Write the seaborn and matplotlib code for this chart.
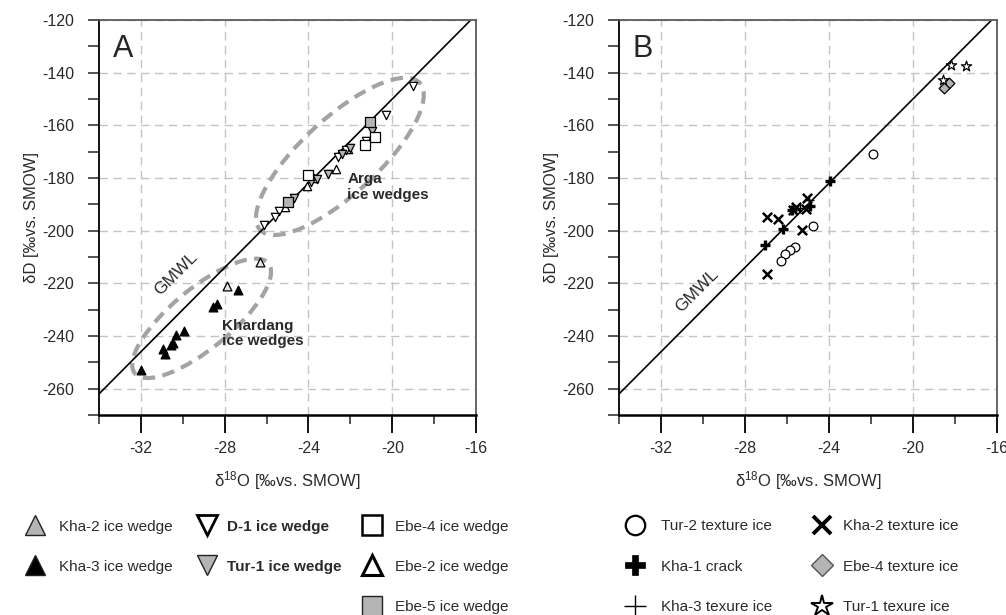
import numpy as np
import pandas as pd
import matplotlib
matplotlib.use('Agg')
import matplotlib.pyplot as plt
import seaborn as sns
from matplotlib.lines import Line2D
from matplotlib.patches import Ellipse
from matplotlib.transforms import ScaledTranslation

# ---- panel A: ice wedges (d18O, dD) ----
kha2_wedge_x = [-27.9, -26.3]
kha2_wedge_y = [-221.2, -211.9]
kha3_wedge_x = [-32.0, -30.95, -30.85, -30.55, -30.45, -30.3, -29.95, -28.55, -28.35, -27.35]
kha3_wedge_y = [-253.0, -245.0, -247.0, -243.5, -242.5, -239.5, -238.0, -229.0, -228.0, -222.5]
d1_wedge_x = [-19.0, -20.3, -21.25, -22.2, -22.6, -25.4, -25.6, -26.1]
d1_wedge_y = [-145.0, -156.0, -166.0, -169.5, -172.0, -192.5, -195.0, -198.0]
tur1_wedge_x = [-20.95, -22.0, -22.4, -23.05, -23.9, -23.6, -24.7]
tur1_wedge_y = [-162.0, -168.5, -171.0, -178.5, -181.5, -180.5, -187.5]
ebe4_wedge_x = [-24.0, -21.3, -20.8]
ebe4_wedge_y = [-179.0, -167.5, -164.5]
ebe2_wedge_x = [-22.7, -22.1, -24.05, -25.1, -23.75]
ebe2_wedge_y = [-176.5, -169.0, -183.0, -191.0, -180.0]
ebe5_wedge_x = [-25.0, -21.05]
ebe5_wedge_y = [-189.2, -158.7]

# ---- panel B: texture ice and cracks ----
tur2_tex_x = [-21.9, -24.75, -25.6, -25.85, -26.1, -26.3]
tur2_tex_y = [-170.7, -198.3, -206.3, -207.3, -209.0, -211.7]
kha1_crack_x = [-27.05, -26.2, -23.95, -24.9, -25.75]
kha1_crack_y = [-205.6, -199.2, -181.2, -190.7, -192.0]
kha3_tex_x = [-25.4, -24.95]
kha3_tex_y = [-191.5, -188.5]
kha2_tex_x = [-26.95, -26.45, -25.7, -25.3, -25.05, -26.95, -25.55, -25.1]
kha2_tex_y = [-195.0, -195.5, -192.3, -199.6, -187.5, -216.3, -191.0, -191.8]
ebe4_tex_x = [-18.3, -18.5]
ebe4_tex_y = [-144.0, -145.8]
tur1_tex_x = [-18.2, -17.45, -18.55]
tur1_tex_y = [-137.0, -137.4, -142.6]

# global meteoric water line dD = 8 * d18O + 10
gmwl_slope = 8
gmwl_icept = 10

sns.set_style('ticks')
plt.rcParams['font.family'] = ['Liberation Sans', 'DejaVu Sans']
plt.rcParams['mathtext.fontset'] = 'custom'
plt.rcParams['mathtext.rm'] = 'Liberation Sans'
plt.rcParams['mathtext.default'] = 'regular'
plt.rcParams['axes.unicode_minus'] = False

GRAY = '#b4b4b4'
TXT = '#2a2a2a'

fig = plt.figure(figsize=(10.06, 6.15), dpi=100)
axA = fig.add_axes([0.0984, 0.3252, 0.3748, 0.6423])
axB = fig.add_axes([0.6153, 0.3252, 0.3757, 0.6423])


def style_axes(ax, letter):
    ax.set_xlim(-34, -16)
    ax.set_ylim(-270, -120)
    ax.set_xticks([-32, -28, -24, -20, -16])
    ax.set_xticks([-34, -30, -26, -22, -18], minor=True)
    ax.set_yticks(np.arange(-260, -119, 20))
    ax.set_yticks(np.arange(-270, -119, 20), minor=True)
    ax.set_axisbelow(True)
    ax.grid(True, which='major', color='#c4c4c4', linestyle=(0, (6, 4)), linewidth=1.0)
    ax.tick_params(axis='x', which='major', direction='out', length=13, width=1.3,
                   labelsize=11.5, pad=6, colors='black', labelcolor=TXT)
    ax.tick_params(axis='x', which='minor', direction='out', length=6.5, width=1.1)
    ax.tick_params(axis='y', which='both', direction='out', length=8, width=1.1,
                   labelsize=11.5, pad=10, labelcolor=TXT)
    for side in ['left', 'bottom']:
        ax.spines[side].set_color('black')
    ax.spines['left'].set_linewidth(1.3)
    ax.spines['bottom'].set_linewidth(1.8)
    for side in ['top', 'right']:
        ax.spines[side].set_visible(True)
        ax.spines[side].set_color('#5a5a5a')
        ax.spines[side].set_linewidth(1.3)
    ax.set_xlabel(r'δ$^{18}$O [‰vs. SMOW]', fontsize=12, color=TXT, labelpad=9)
    ax.set_ylabel('δD [‰vs. SMOW]', fontsize=12, color=TXT, labelpad=2)
    ax.text(0.037, 0.906, letter, transform=ax.transAxes, fontsize=22, va='baseline')
    xs = np.array([-34, -16])
    ax.plot(xs, gmwl_slope * xs + gmwl_icept, color='black', lw=1.2, zorder=2)


def dashed_ellipse(ax, cx, cy, w_px, h_px, angle):
    tr = fig.dpi_scale_trans + ScaledTranslation(cx, cy, ax.transData)
    e = Ellipse((0, 0), w_px / fig.dpi, h_px / fig.dpi, angle=angle, transform=tr,
                fill=False, edgecolor='#a3a3a3', lw=3, linestyle=(0, (3, 1.8)),
                zorder=1.5, clip_on=False)
    ax.add_patch(e)


def pts(ax, x, y, marker, s, fc, ec='black', lw=0.9):
    if marker in ['+', 'x']:
        sns.scatterplot(x=x, y=y, ax=ax, marker=marker, s=s, color=ec, linewidth=lw, zorder=3)
    else:
        sns.scatterplot(x=x, y=y, ax=ax, marker=marker, s=s, color=fc, edgecolor=ec,
                        linewidth=lw, zorder=3)


style_axes(axA, 'A')
style_axes(axB, 'B')

# panel A
dashed_ellipse(axA, -22.5, -171.8, 217, 76, 42.6)
dashed_ellipse(axA, -29.1, -233.3, 173, 60, 39.5)
pts(axA, kha2_wedge_x, kha2_wedge_y, '^', 40, '#e6e6e6')
pts(axA, kha3_wedge_x, kha3_wedge_y, '^', 40, 'black')
pts(axA, ebe2_wedge_x, ebe2_wedge_y, '^', 36, 'white')
pts(axA, d1_wedge_x, d1_wedge_y, 'v', 36, 'white')
pts(axA, tur1_wedge_x, tur1_wedge_y, 'v', 36, GRAY)
pts(axA, ebe4_wedge_x, ebe4_wedge_y, 's', 45, 'white')
pts(axA, ebe5_wedge_x, ebe5_wedge_y, 's', 50, GRAY)

axA.text(-22.15, -183.3, 'Arga\nice wedges', fontsize=11, fontweight='bold', color=TXT,
         va='center', ha='left', linespacing=1.15)
axA.text(-28.13, -239.1, 'Khardang\nice wedges', fontsize=11, fontweight='bold', color=TXT,
         va='center', ha='left', linespacing=1.15)
axA.text(-30.32, -216.2, 'GMWL', fontsize=12.5, rotation=45, ha='center', va='center',
         rotation_mode='anchor', color=TXT)

# panel B
pts(axB, tur2_tex_x, tur2_tex_y, 'o', 40, 'white')
pts(axB, kha2_tex_x, kha2_tex_y, 'x', 45, None, lw=1.8)
pts(axB, kha1_crack_x, kha1_crack_y, '+', 60, None, lw=2.4)
pts(axB, kha3_tex_x, kha3_tex_y, '+', 45, None, lw=1.0)
pts(axB, ebe4_tex_x, ebe4_tex_y, 'D', 30, GRAY)
pts(axB, tur1_tex_x, tur1_tex_y, '*', 60, 'white', lw=0.9)
axB.text(-30.3, -222.7, 'GMWL', fontsize=12.5, rotation=45, ha='center', va='center',
         rotation_mode='anchor', color=TXT)


def h(marker, ms, fc, mew=1.0, ec='#222222'):
    return Line2D([], [], ls='none', marker=marker, ms=ms, mfc=fc, mec=ec, mew=mew)


def column_legend(handles, labels, x_px, y_px, pad, bold=()):
    leg = fig.legend(handles, labels, loc='upper left',
                     bbox_to_anchor=(x_px / 1006, 1 - y_px / 615),
                     frameon=False, borderpad=0, borderaxespad=0, fontsize=11,
                     handlelength=1.6, handletextpad=pad, labelspacing=1.72)
    for t in leg.get_texts():
        t.set_color(TXT)
        if t.get_text() in bold:
            t.set_fontweight('bold')
    return leg


top = 519.5
column_legend([h('^', 14, GRAY), h('^', 14, 'black')],
              ['Kha-2 ice wedge', 'Kha-3 ice wedge'], 22.8, top, 0.77)
column_legend([h('v', 14, 'white', 2.0, 'black'), h('v', 14, GRAY)],
              ['D-1 ice wedge', 'Tur-1 ice wedge'], 194.8, top, 0.51,
              bold=('D-1 ice wedge', 'Tur-1 ice wedge'))
column_legend([h('s', 14, 'white', 1.8, 'black'), h('^', 14, 'white', 2.2, 'black'),
               h('s', 14, GRAY)],
              ['Ebe-4 ice wedge', 'Ebe-2 ice wedge', 'Ebe-5 ice wedge'], 359.8, top, 0.7)
column_legend([h('o', 14, 'white', 1.6, 'black'), h('P', 15, 'black', 0.5, 'black'),
               h('+', 16, 'none', 1.0, 'black')],
              ['Tur-2 texture ice', 'Kha-1 crack', 'Kha-3 texure ice'], 622.8, top, 0.9)
column_legend([h('x', 13, 'none', 2.8, 'black'), h('D', 11, GRAY, 1.0, '#555555'),
               h('*', 16, 'white', 1.4, 'black')],
              ['Kha-2 texture ice', 'Ebe-4 texture ice', 'Tur-1 texure ice'], 809.8, top, 0.58)

fig.savefig('out.png', dpi=100)
